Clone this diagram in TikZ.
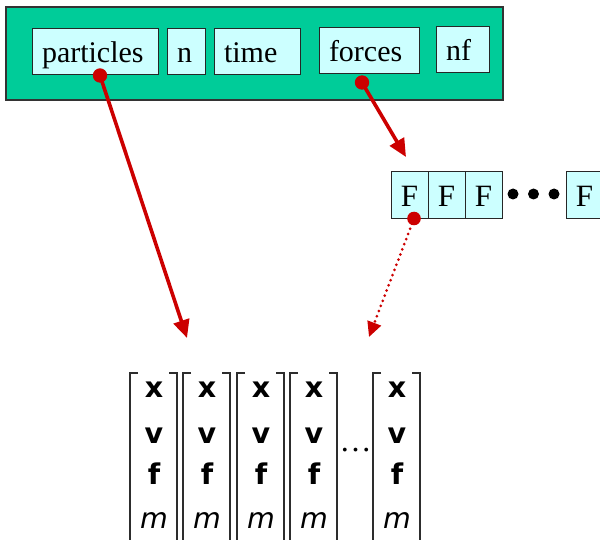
\documentclass[tikz,border=0pt]{standalone}
\usepackage{fontspec}
\setmainfont{Liberation Serif}
\newfontfamily\dvfont{DejaVu Sans}
\usetikzlibrary{arrows.meta}
\definecolor{tealgreen}{RGB}{0,204,153}
\definecolor{lightcyan}{RGB}{204,255,255}
\definecolor{arrowred}{RGB}{204,0,0}
\definecolor{bracketgray}{RGB}{45,45,45}
\begin{document}
\begin{tikzpicture}[x=1pt,y=-1pt,
  outerbox/.style={draw=black!80, line width=1.3pt, fill=tealgreen, inner sep=0pt},
  field/.style={draw=black!85, line width=1pt, fill=lightcyan, inner ysep=0pt, inner xsep=10pt,
    minimum height=46pt, text height=22pt, text depth=0pt,
    font=\fontsize{30}{36}\selectfont, align=left},
  fcell/.style={draw=black!85, line width=1pt, fill=lightcyan, inner sep=0pt,
    minimum width=37pt, minimum height=47pt, text height=22pt, text depth=0pt,
    font=\fontsize{31}{36}\selectfont},
  bullet/.style={circle, fill=black, inner sep=0pt, minimum size=11pt},
  bracket/.style={draw=bracketgray, line width=1.3pt},
  vecb/.style={inner sep=0pt, anchor=base, font=\dvfont\bfseries\fontsize{28.5}{32}\selectfont},
  veci/.style={inner sep=0pt, anchor=base, font=\dvfont\itshape\fontsize{28.5}{32}\selectfont},
  colbox/.style={inner sep=0pt, minimum width=47pt, minimum height=167pt},
  ptr/.style={draw=arrowred, line width=3.6pt, -{Triangle[length=18pt,width=16pt]}},
  dptr/.style={draw=arrowred, line width=3pt, line cap=round, dash pattern=on 0pt off 5.5pt,
    -{Triangle[length=15pt,width=14pt]}},
  reddot/.style={fill=arrowred}
]
\useasboundingbox (0,0) rectangle (600,540);

% top record
\node[outerbox, minimum width=497pt, minimum height=93pt] (rec) at (254.5,53.5) {};
\node[field, minimum width=126pt, text width=106pt] (particles) at (95,52) {particles};
\node[field, minimum width=38pt, text width=18pt] (n) at (186,52) {n};
\node[field, minimum width=86pt, text width=66pt] (time) at (257,52) {time};
\node[field, minimum width=100pt, text width=80pt] (forces) at (369,51) {forces};
\node[field, minimum width=53pt, text width=33pt] (nf) at (462.5,50) {nf};

% force array
\node[fcell] (F1) at (409.5,195.5) {F};
\node[fcell] (F2) at (446.5,195.5) {F};
\node[fcell] (F3) at (483.5,195.5) {F};
\node[bullet] (b1) at (513,194) {};
\node[bullet] (b2) at (533.5,194) {};
\node[bullet] (b3) at (554,194) {};
\node[fcell] (F4) at (584.5,195.5) {F};

% particle vectors
\foreach \i/\L in {1/130,2/183,3/237,4/290,5/373}{
  \node[colbox] (c\i) at (\L+23.5,456.5) {};
  \draw[bracket] (\L+8,373) -- (\L,373) -- (\L,545);
  \draw[bracket] (\L+39,373) -- (\L+47,373) -- (\L+47,545);
  \node[vecb] (x\i) at (\L+24,397) {x};
  \node[vecb] (v\i) at (\L+24,443) {v};
  \node[vecb] (f\i) at (\L+24,484) {f};
  \node[veci] (m\i) at (\L+24,528) {m};
}
\node[inner sep=0pt, anchor=base, font=\fontsize{32}{40}\selectfont] (dots) at (355.5,451) {…};

% pointers
\coordinate (pstart) at ([xshift=5pt]particles.south);
\coordinate (fstart) at ([xshift=-7pt,yshift=-8pt]forces.south);
\coordinate (Fstart) at ([xshift=4.5pt,yshift=1pt]F1.south);
\coordinate (pend) at (187,338);
\coordinate (fend) at (406,157);
\coordinate (Fend) at (369,337);

\draw[ptr] (pstart) -- (pend);
\draw[ptr] (fstart) -- (fend);
\draw[dptr] (Fstart) -- (Fend);
\fill[reddot] (pstart) circle (7.2pt);
\fill[reddot] (fstart) circle (7.2pt);
\fill[reddot] (Fstart) circle (6.8pt);
\end{tikzpicture}
\end{document}
